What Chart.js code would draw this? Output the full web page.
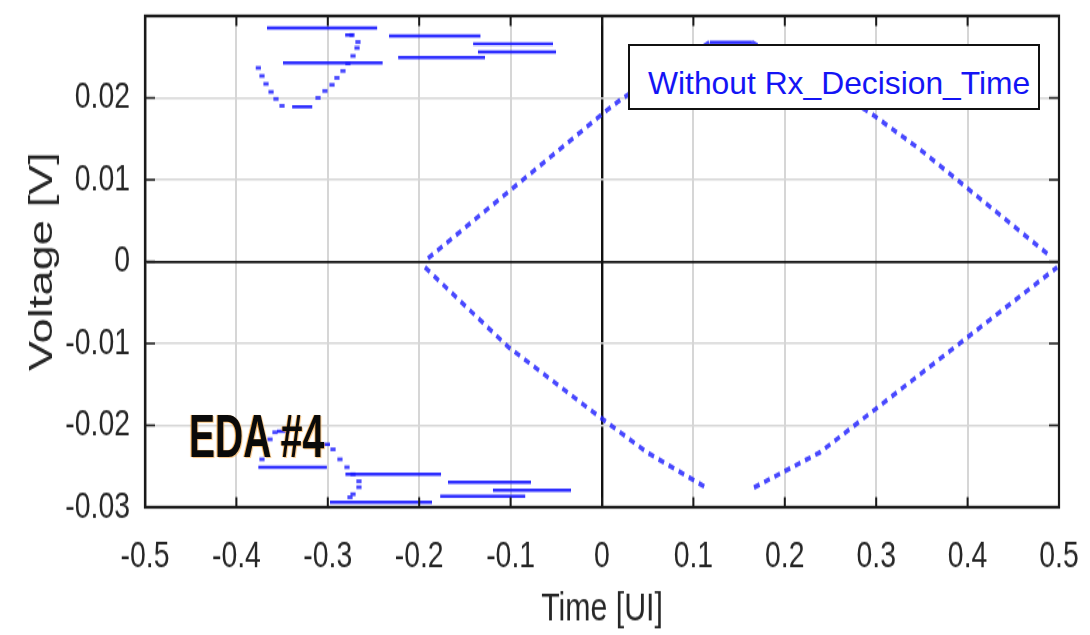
<!DOCTYPE html>
<html>
<head>
<meta charset="utf-8">
<script src="https://cdn.jsdelivr.net/npm/chart.js@4.4.1/dist/chart.umd.min.js"></script>
<style>
  html, body { margin: 0; padding: 0; background: #fff; }
  #wrap { position: relative; width: 1090px; height: 635px; overflow: hidden; }
  /* the source figure was vertically stretched; reproduce that stretch */
  #plotWrap { position: absolute; left: 0; top: 0; width: 1090px; height: 477px; transform: scaleY(1.3312); transform-origin: 0 0; }
  #legendBox {
    position: absolute; left: 628px; top: 44px; width: 408px; height: 62px;
    border: 2.5px solid #111; background: #fff;
  }
  #legendText {
    position: absolute; left: 648px; top: 67px;
    font-family: 'Liberation Sans', Arial, sans-serif; font-size: 31.8px; line-height: 32px;
    color: #1414f5; white-space: nowrap;
  }
  #eda {
    position: absolute; left: 189px; top: 405px;
    font-family: 'Liberation Sans', Arial, sans-serif; font-weight: bold; font-size: 62px; line-height: 62px;
    color: #0a0a0a; white-space: nowrap; transform: scaleX(0.63); transform-origin: 0 0;
    text-shadow: -1.5px 0 1px rgba(240,150,40,0.85), 1.5px 1px 1px rgba(240,160,60,0.6);
  }
</style>
</head>
<body>
<div id="wrap">
  <div id="plotWrap"><canvas id="c" width="1090" height="477"></canvas></div>
  <div id="legendBox"></div>
  <div id="legendText">Without Rx_Decision_Time</div>
  <div id="eda">EDA #4</div>
</div>
<script>
// ---- axis ticks ----
const xTickValues = [-0.5, -0.4, -0.3, -0.2, -0.1, 0, 0.1, 0.2, 0.3, 0.4, 0.5];
const xTickLabels = ['-0.5', '-0.4', '-0.3', '-0.2', '-0.1', '0', '0.1', '0.2', '0.3', '0.4', '0.5'];
const yTickValues = [-0.03, -0.02, -0.01, 0, 0.01, 0.02, 0.03];
const yTickLabels = ['-0.03', '-0.02', '-0.01', '0', '0.01', '0.02', ''];

// ---- eye diagram diamond traces (vertices) [time UI, voltage V] ----
const eyeUpperLeft  = [[-0.1904, 0.0004], [0.0055, 0.0185], [0.023, 0.0200], [0.118, 0.0268]];
const eyeUpperRight = [[0.164, 0.0268], [0.2932, 0.0182], [0.348, 0.0137], [0.488, 0.0009]];
const eyeLowerLeft  = [[-0.1937, -0.0007], [-0.1028, -0.0104], [-0.0022, -0.0190], [0.0492, -0.0233], [0.1138, -0.0276]];
const eyeLowerRight = [[0.1663, -0.0276], [0.2385, -0.0233], [0.498, -0.0007]];

// ---- solid horizontal traces [xStart, xEnd, voltage] ----
const topSegments = [
  [0.118, 0.164, 0.0268],
  [-0.3665, -0.246, 0.02854],
  [-0.233, -0.133, 0.02756],
  [-0.141, -0.0536, 0.02659],
  [-0.1357, -0.0503, 0.0256],
  [-0.223, -0.128, 0.0249],
  [-0.349, -0.240, 0.02427],
  [-0.339, -0.317, 0.0189],
  [-0.281, -0.272, 0.02768]
];
const bottomSegments = [
  [-0.376, -0.301, -0.02512],
  [-0.2807, -0.1761, -0.02598],
  [-0.1685, -0.0777, -0.02695],
  [-0.1193, -0.0339, -0.02793],
  [-0.177, -0.084, -0.02866],
  [-0.2976, -0.186, -0.02939],
  [-0.3556, -0.3414, -0.02073],
  [-0.316, -0.2976, -0.02232]
];

// ---- dotted crossing traces (individual dots) [time UI, voltage V] ----
const topArcDots = [
  [-0.376, 0.02366], [-0.372, 0.02268], [-0.3676, 0.02171], [-0.3621, 0.02073], [-0.3567, 0.01988], [-0.3501, 0.01902],
  [-0.3107, 0.0200], [-0.3031, 0.02085], [-0.2954, 0.02159], [-0.290, 0.02244], [-0.2834, 0.02329], [-0.2780, 0.02420],
  [-0.2724, 0.02512], [-0.268, 0.0261], [-0.267, 0.02683], [-0.2735, 0.02768]
];
const bottomArcDots = [
  [-0.372, -0.02415], [-0.3676, -0.02293], [-0.3632, -0.02171], [-0.3578, -0.02085],
  [-0.2943, -0.02293], [-0.2867, -0.02415], [-0.279, -0.02512], [-0.2724, -0.02598],
  [-0.2659, -0.02683], [-0.2659, -0.02756], [-0.2724, -0.02841], [-0.2757, -0.02878]
];

const toPts = arr => arr.map(([x, y]) => ({ x, y }));
const BLUE = 'rgba(25,25,255,0.9)';
const DOTBLUE = 'rgba(40,40,255,0.85)';

const datasets = [];
[eyeUpperLeft, eyeUpperRight, eyeLowerLeft, eyeLowerRight].forEach(tr => {
  datasets.push({
    data: toPts(tr), showLine: true, borderColor: DOTBLUE, borderWidth: 3.6,
    borderDash: [6, 5], borderCapStyle: 'butt', pointRadius: 0, tension: 0
  });
});
topSegments.concat(bottomSegments).forEach(([a, b, y]) => {
  datasets.push({
    data: [{ x: a, y }, { x: b, y }], showLine: true, borderColor: BLUE, borderWidth: 2.5,
    pointRadius: 0, tension: 0
  });
});
[topArcDots, bottomArcDots].forEach(tr => {
  datasets.push({
    data: toPts(tr), showLine: false, pointStyle: 'line', pointRadius: 2.6,
    pointBorderWidth: 2.8, borderColor: DOTBLUE, backgroundColor: DOTBLUE, pointBorderColor: DOTBLUE
  });
});

const isEdge = (v, a, b) => Math.abs(v - a) < 1e-9 || Math.abs(v - b) < 1e-9;
const TICKFONT = { family: "'Liberation Sans', Arial, sans-serif", size: 28.4 };

const innerTicks = {
  id: 'innerTicks',
  afterDraw(chart) {
    const { ctx, chartArea: { left, right, top, bottom }, scales: { x, y } } = chart;
    ctx.save();
    ctx.strokeStyle = '#1a1a1a';
    ctx.beginPath();
    ctx.lineWidth = 2;
    x.ticks.forEach(t => {
      const px = x.getPixelForValue(t.value);
      ctx.moveTo(px, bottom); ctx.lineTo(px, bottom - 7.5);
      ctx.moveTo(px, top); ctx.lineTo(px, top + 7.5);
    });
    ctx.stroke();
    ctx.beginPath();
    ctx.lineWidth = 1.6;
    y.ticks.forEach(t => {
      const py = y.getPixelForValue(t.value);
      ctx.moveTo(left, py); ctx.lineTo(left + 10, py);
      ctx.moveTo(right, py); ctx.lineTo(right - 10, py);
    });
    ctx.stroke();
    ctx.lineWidth = 2.2;
    ctx.strokeRect(left, top, right - left, bottom - top);
    ctx.restore();
  }
};

new Chart(document.getElementById('c'), {
  type: 'scatter',
  data: { datasets },
  options: {
    responsive: false,
    animation: false,
    events: [],
    layout: { padding: { left: 0, right: 31, top: 12, bottom: 0 } },
    plugins: { legend: { display: false }, tooltip: { enabled: false } },
    scales: {
      x: {
        type: 'linear', min: -0.5, max: 0.5,
        afterBuildTicks: s => { s.ticks = xTickValues.map(v => ({ value: v })); },
        afterFit: s => { s.height = 96; s.paddingLeft = 0; s.paddingRight = 0; },
        ticks: {
          autoSkip: false, maxRotation: 0, padding: 20, color: '#262626', font: TICKFONT,
          callback: (v, i) => xTickLabels[i]
        },
        grid: {
          drawTicks: false,
          color: c => (c.tick && (Math.abs(c.tick.value) < 1e-9 || isEdge(c.tick.value, -0.5, 0.5))) ? '#111' : '#d6d6d6',
          lineWidth: c => (c.tick && Math.abs(c.tick.value) < 1e-9) ? 2.4 : 2
        },
        border: { display: true, color: '#1a1a1a', width: 2 },
        title: {
          display: true, text: 'Time [UI]', color: '#262626',
          font: { family: "'Liberation Sans', Arial, sans-serif", size: 30.3 },
          padding: { top: 0, bottom: 1 }
        }
      },
      y: {
        type: 'linear', min: -0.03, max: 0.03,
        afterBuildTicks: s => { s.ticks = yTickValues.map(v => ({ value: v })); },
        afterFit: s => { s.width = 145; s.paddingTop = 0; s.paddingBottom = 0; },
        ticks: {
          autoSkip: false, padding: 15, color: '#262626', font: TICKFONT,
          callback: (v, i) => yTickLabels[i]
        },
        grid: {
          drawTicks: false,
          color: c => (c.tick && (Math.abs(c.tick.value) < 1e-9 || isEdge(c.tick.value, -0.03, 0.03))) ? '#111' : '#d6d6d6',
          lineWidth: c => (c.tick && Math.abs(c.tick.value) < 1e-9) ? 1.8 : 1.5
        },
        border: { display: true, color: '#1a1a1a', width: 2.4 },
        title: {
          display: true, text: 'Voltage [V]', color: '#262626',
          font: { family: "'Liberation Sans', Arial, sans-serif", size: 34 },
          padding: { top: 22, bottom: 0 }
        }
      }
    }
  },
  plugins: [innerTicks]
});
</script>
</body>
</html>
